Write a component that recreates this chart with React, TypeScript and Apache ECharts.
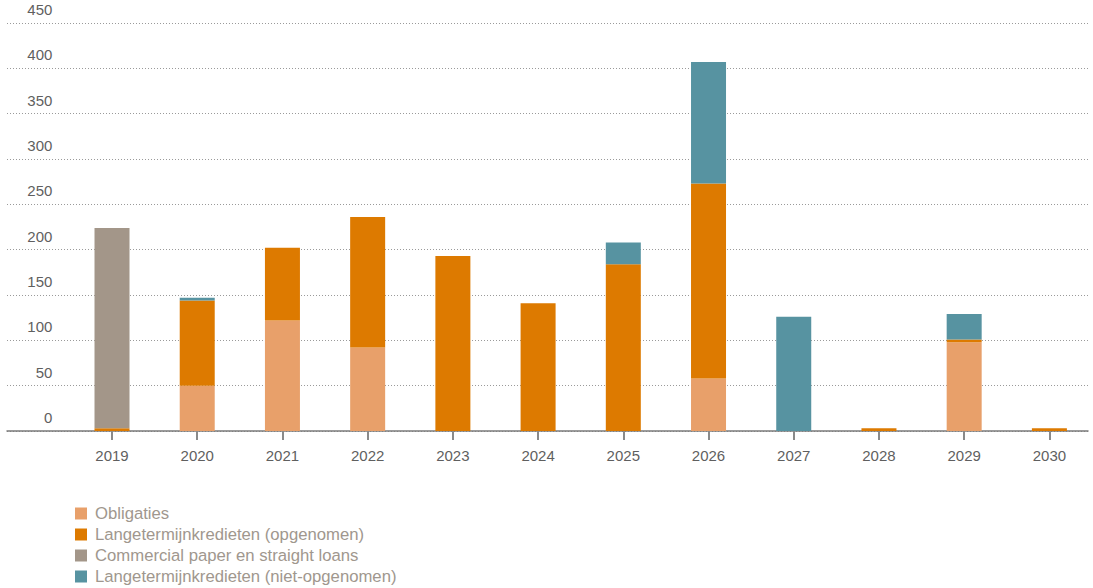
import React, { useEffect, useRef } from "react";
import * as echarts from "echarts";

const years = ["2019", "2020", "2021", "2022", "2023", "2024", "2025", "2026", "2027", "2028", "2029", "2030"];
const obligaties = [0, 50, 122, 92, 0, 0, 0, 58, 0, 0, 98, 0];
const opgenomen = [3, 94, 80, 144, 193, 141, 184, 215, 0, 3, 3, 3];
const commercialPaper = [221, 0, 0, 0, 0, 0, 0, 0, 0, 0, 0, 0];
const nietOpgenomen = [0, 3, 0, 0, 0, 0, 24, 134, 126, 0, 28, 0];

const seriesNames = [
  "Obligaties",
  "Langetermijnkredieten (opgenomen)",
  "Commercial paper en straight loans",
  "Langetermijnkredieten (niet-opgenomen)",
];
const seriesColors = ["#E8A06A", "#DD7A00", "#A39689", "#5793A1"];

const FONT = "'Liberation Sans', Arial, Helvetica, sans-serif";

export default function App() {
  const ref = useRef<HTMLDivElement>(null);

  useEffect(() => {
    if (!ref.current) return;
    const chart = echarts.init(ref.current, undefined, { renderer: "svg" });
    const dataSets = [obligaties, opgenomen, commercialPaper, nietOpgenomen];
    chart.setOption({
      animation: false,
      textStyle: { fontFamily: FONT },
      grid: [
        { left: 7, right: 5, top: 23, height: 408 },
        { left: 69.4, width: 1022.6, top: 23, height: 408 },
      ],
      legend: {
        orient: "vertical",
        left: 75,
        top: 505,
        height: 120,
        padding: 0,
        icon: "rect",
        itemWidth: 12,
        itemHeight: 12,
        itemGap: 4,
        selectedMode: false,
        data: seriesNames,
        textStyle: {
          color: "#a0978e",
          fontSize: 16.7,
          lineHeight: 16,
          fontFamily: FONT,
          padding: [0, 0, 0, 3],
        },
      },
      xAxis: [
        {
          type: "value",
          gridIndex: 0,
          min: 0,
          max: 1,
          axisLabel: { show: false },
          axisTick: { show: false },
          splitLine: { show: false },
          axisLine: { show: true, lineStyle: { color: "#7a7a7a", width: 1.5 } },
        },
        {
          type: "category",
          gridIndex: 1,
          data: years,
          axisLine: { show: false },
          axisTick: {
            show: true,
            alignWithLabel: true,
            length: 9,
            lineStyle: { color: "#8a8a8a", width: 2 },
          },
          axisLabel: { color: "#5f5f5f", fontSize: 15, margin: 17, fontFamily: FONT },
        },
      ],
      yAxis: [
        {
          type: "value",
          gridIndex: 0,
          min: 0,
          max: 450,
          interval: 50,
          axisLabel: { show: false },
          axisLine: { show: false },
          axisTick: { show: false },
          splitLine: { show: true, lineStyle: { color: "#9a9a9a", type: [1, 2], width: 1 } },
        },
        {
          type: "value",
          gridIndex: 1,
          min: 0,
          max: 450,
          interval: 50,
          axisLine: { show: false },
          axisTick: { show: false },
          splitLine: { show: false },
          axisLabel: {
            color: "#5f5f5f",
            fontSize: 15,
            margin: 17,
            verticalAlign: "bottom",
            padding: [0, 0, 6, 0],
            fontFamily: FONT,
          },
        },
      ],
      series: seriesNames.map((name, i) => ({
        name,
        type: "bar",
        stack: "total",
        xAxisIndex: 1,
        yAxisIndex: 1,
        barWidth: 35,
        itemStyle: { color: seriesColors[i] },
        data: dataSets[i],
      })),
    });
    return () => chart.dispose();
  }, []);

  return (
    <div
      ref={ref}
      style={{ position: "absolute", left: 0, top: 0, width: 1093, height: 588, background: "#fff" }}
    />
  );
}
